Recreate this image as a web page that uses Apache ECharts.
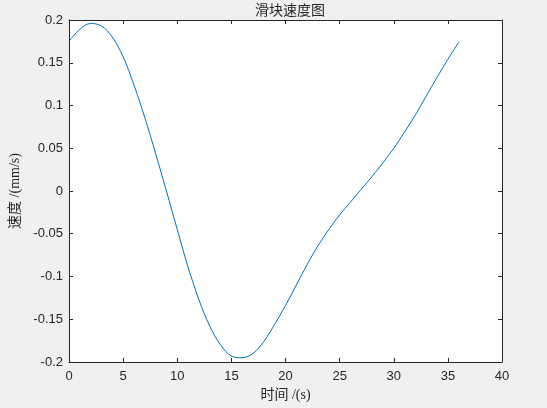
<!DOCTYPE html>
<html>
<head>
<meta charset="utf-8">
<script src="https://cdn.jsdelivr.net/npm/echarts@6/dist/echarts.min.js"></script>
<style>
    html, body { margin: 0; padding: 0; background: #f0f0f0; }
    #chart { width: 547px; height: 408px; }
</style>
</head>
<body>
<div id="chart"></div>
<script>
// time (s) and slider velocity (mm/s)
const times = [0, 1, 2, 3, 4, 5, 6, 7, 8, 9, 10, 11, 12, 13, 14, 15, 16, 17, 18,
    19, 20, 21, 22, 23, 24, 25, 26, 27, 28, 29, 30, 31, 32, 33, 34, 35, 36];
const velocity = [0.175, 0.189, 0.196, 0.193, 0.180, 0.157, 0.124, 0.086, 0.044, 0.000,
    -0.045, -0.089, -0.127, -0.158, -0.180, -0.193, -0.195, -0.190, -0.176, -0.156,
    -0.134, -0.110, -0.086, -0.064, -0.045, -0.028, -0.013, 0.002, 0.017, 0.033,
    0.050, 0.069, 0.089, 0.111, 0.133, 0.154, 0.174];

const titleText = '滑块速度图';
const xName = '时间 /(s)';
const yName = '速度 /(mm/s)';

const axisColor = '#262626';
const tickFont = { color: axisColor, fontSize: 13, fontFamily: 'Liberation Sans, Arial, sans-serif' };
const nameFont = { color: axisColor, fontSize: 14, fontFamily: 'Liberation Serif, Noto Sans CJK SC, serif' };

const chart = echarts.init(document.getElementById('chart'));

const plainAxis = {
    axisLine: { show: true, onZero: false, lineStyle: { color: axisColor, width: 1 } },
    axisTick: { show: true, inside: true, length: 4, lineStyle: { color: axisColor } },
    splitLine: { show: false },
};

chart.setOption({
    backgroundColor: '#f0f0f0',
    animation: false,
    title: {
        text: titleText,
        left: 285,
        textAlign: 'center',
        top: -1,
        textStyle: { ...nameFont, fontWeight: 'normal' },
    },
    grid: {
        left: 69,
        right: 45,
        top: 20,
        bottom: 46,
        show: true,
        backgroundColor: '#ffffff',
        borderWidth: 0,
    },
    xAxis: [
        {
            type: 'value',
            min: 0,
            max: 40,
            interval: 5,
            position: 'bottom',
            name: xName,
            nameLocation: 'middle',
            nameGap: 26,
            nameTextStyle: nameFont,
            axisLabel: { ...tickFont, margin: 8 },
            ...plainAxis,
        },
        {
            type: 'value',
            min: 0,
            max: 40,
            interval: 5,
            position: 'top',
            axisLabel: { show: false },
            ...plainAxis,
        },
    ],
    yAxis: [
        {
            type: 'value',
            min: -0.2,
            max: 0.2,
            interval: 0.05,
            position: 'left',
            name: yName,
            nameLocation: 'middle',
            nameGap: 41,
            nameTextStyle: nameFont,
            axisLabel: { ...tickFont, margin: 6 },
            ...plainAxis,
        },
        {
            type: 'value',
            min: -0.2,
            max: 0.2,
            interval: 0.05,
            position: 'right',
            axisLabel: { show: false },
            ...plainAxis,
        },
    ],
    series: [
        {
            type: 'line',
            data: times.map((t, i) => [t, velocity[i]]),
            smooth: 0.35,
            showSymbol: false,
            lineStyle: { color: '#0072bd', width: 1 },
        },
    ],
});
</script>
</body>
</html>
